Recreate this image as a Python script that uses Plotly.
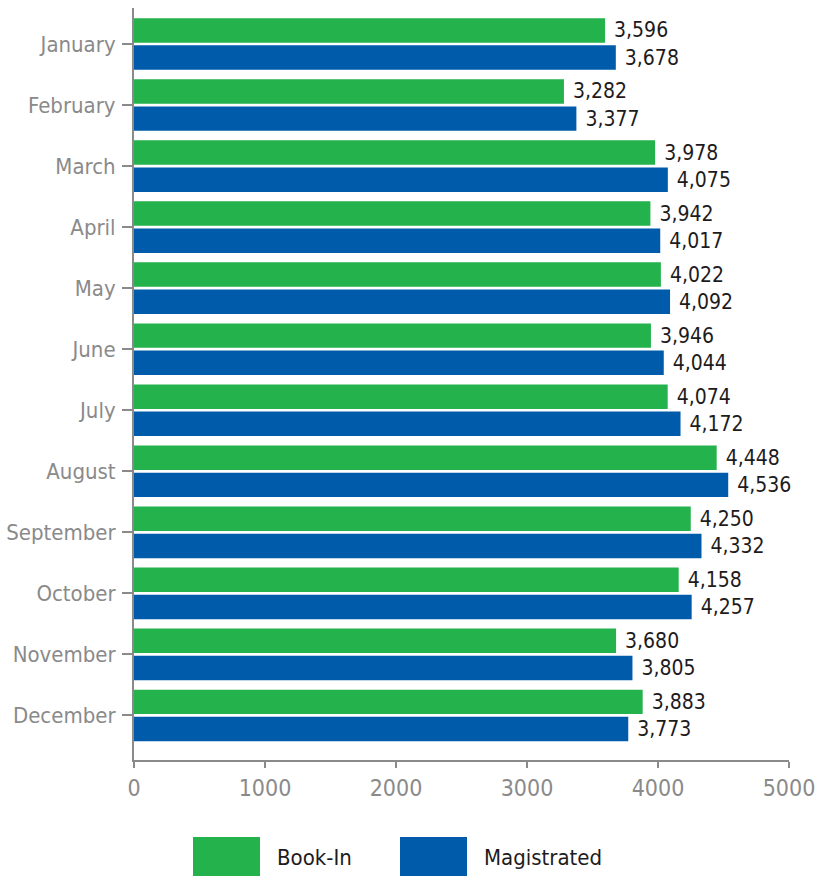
import plotly.graph_objects as go

months = ["January", "February", "March", "April", "May", "June", "July",
          "August", "September", "October", "November", "December"]
book_in = [3596, 3282, 3978, 3942, 4022, 3946, 4074, 4448, 4250, 4158, 3680, 3883]
magistrated = [3678, 3377, 4075, 4017, 4092, 4044, 4172, 4536, 4332, 4257, 3805, 3773]
x_ticks = [0, 1000, 2000, 3000, 4000, 5000]
series_names = ["Book-In", "Magistrated"]

GREEN = "#23b24c"
BLUE = "#005baa"
GREY = "#8a8a8a"
DARK = "#1e1b1c"
NARROW = "Liberation Sans Narrow, DejaVu Sans Condensed, Arial Narrow, sans-serif"

fig = go.Figure()
for name, vals, col in [(series_names[0], book_in, GREEN), (series_names[1], magistrated, BLUE)]:
    fig.add_trace(go.Bar(
        y=months, x=vals, name=name, orientation="h",
        marker=dict(color=col, line=dict(width=0)),
        texttemplate="\u00a0%{x:,}", textposition="outside",
        textfont=dict(family=NARROW, size=21, color=DARK),
        cliponaxis=False, showlegend=False,
    ))

fig.update_layout(
    width=817, height=876,
    margin=dict(l=134, r=28, t=8, b=116),
    paper_bgcolor="white", plot_bgcolor="white",
    barmode="group", bargap=0.11, bargroupgap=0.1,
    font=dict(family=NARROW, color=GREY),
    xaxis=dict(range=[0, 5000], tickvals=x_ticks, ticktext=[str(v) for v in x_ticks],
               automargin=False, ticklabeloverflow="allow",
               showgrid=False, zeroline=False, showline=True, linecolor=GREY, linewidth=2,
               ticks="outside", ticklen=6, tickwidth=2, tickcolor=GREY,
               tickfont=dict(family=NARROW, size=23, color=GREY)),
    yaxis=dict(categoryorder="array", categoryarray=months, range=[11.73, -0.59],
               automargin=False, ticklabelstandoff=2,
               showgrid=False, zeroline=False, showline=True, linecolor=GREY, linewidth=2,
               ticks="outside", ticklen=10, tickwidth=2, tickcolor=GREY,
               tickfont=dict(family=NARROW, size=22, color=GREY)),
)

# Legend drawn with large swatches
def px2x(p):
    return (p - 134) / 655.0

def px2y(p):
    return (760 - p) / 752.0

legend_items = [(series_names[0], GREEN, 193, 260, 275), (series_names[1], BLUE, 400, 467, 482)]
for name, col, x0, x1, tx in legend_items:
    fig.add_shape(type="rect", xref="paper", yref="paper",
                  x0=px2x(x0), x1=px2x(x1), y0=px2y(876), y1=px2y(837),
                  fillcolor=col, line=dict(width=0))
    fig.add_annotation(xref="paper", yref="paper", x=px2x(tx), y=px2y(857),
                       xanchor="left", yanchor="middle", text=name, showarrow=False,
                       font=dict(family=NARROW, size=22, color=DARK))

fig.write_html("out.html")
